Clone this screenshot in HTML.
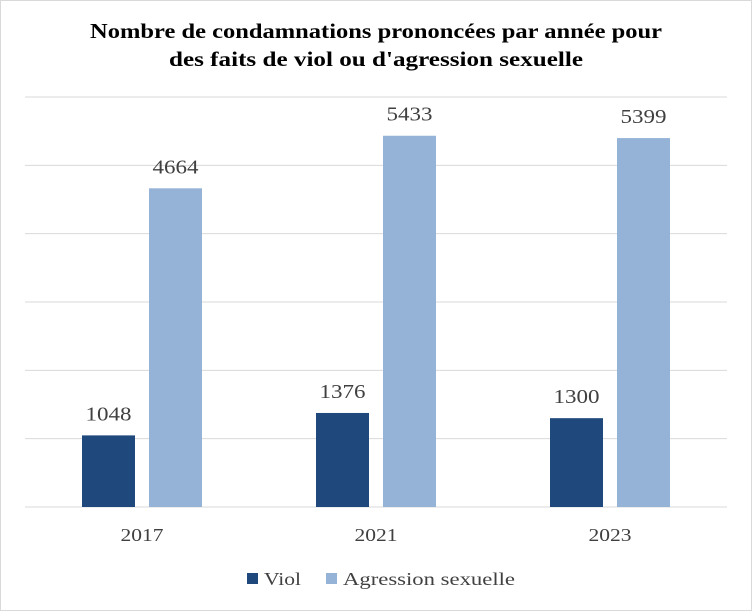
<!DOCTYPE html>
<html><head><meta charset="utf-8"><style>
body{margin:0;background:#fff}
svg{display:block;font-family:"Liberation Serif",serif}
</style></head><body>
<svg width="752" height="611" id="c">
<rect x="0.5" y="0.5" width="751" height="610" fill="#fff" stroke="#d9d9d9"/>
<text x="376" y="38" text-anchor="middle" font-size="21" font-weight="bold" fill="#000" textLength="572" lengthAdjust="spacingAndGlyphs">Nombre de condamnations prononcées par année pour</text>
<text x="376" y="66" text-anchor="middle" font-size="21" font-weight="bold" fill="#000" textLength="414" lengthAdjust="spacingAndGlyphs">des faits de viol ou d'agression sexuelle</text>
<g id="grid"></g><g id="bars"></g><g id="labels"></g>
<g>
<rect x="247" y="573" width="11" height="11" fill="#1f497d"/>
<text x="264" y="585" font-size="18" fill="#404040" textLength="37" lengthAdjust="spacingAndGlyphs">Viol</text>
<rect x="326" y="573" width="11" height="11" fill="#95b3d7"/>
<text x="343" y="585" font-size="18" fill="#404040" textLength="172" lengthAdjust="spacingAndGlyphs">Agression sexuelle</text>
</g>
</svg>
<script>
const categories=["2017","2021","2023"];
const viol=[1048,1376,1300];
const agression=[4664,5433,5399];
const ticks=[0,1000,2000,3000,4000,5000,6000];
const NS="http://www.w3.org/2000/svg";
const x0=25,x1=727,yBase=507,yTop=97,max=6000;
const y=v=>yBase-(v/max)*(yBase-yTop);
const bw=(x1-x0)/categories.length;
const cx=i=>x0+bw*(i+0.5);
function mk(t,a,p){const e=document.createElementNS(NS,t);for(const k in a)e.setAttribute(k,a[k]);p.appendChild(e);return e;}
const g=document.getElementById('grid'),b=document.getElementById('bars'),l=document.getElementById('labels');
ticks.forEach(t=>{const e=mk('line',{x1:x0,x2:x1,y1:y(t),y2:y(t),stroke:'#d9d9d9','stroke-width':1},g);

});
const W=53;
categories.forEach((c,i)=>{
 const series=[[viol[i],'#1f497d','viol',-W-7],[agression[i],'#95b3d7','agression',7]];
 series.forEach(([v,col,n,off])=>{
  const bx=cx(i)+off;
  const r=mk('rect',{x:bx,y:y(v),width:W,height:yBase-y(v),fill:col},b);
  
  
  const t=mk('text',{x:bx+W/2,y:y(v)-15,'text-anchor':'middle','font-size':20,fill:'#404040',textLength:46,lengthAdjust:'spacingAndGlyphs'},l);
  t.textContent=v;
  
  
 });
 const t=mk('text',{x:cx(i),y:541,'text-anchor':'middle','font-size':18,fill:'#404040',textLength:43,lengthAdjust:'spacingAndGlyphs'},l);
 t.textContent=c;
 
 
});
</script>
</body></html>
